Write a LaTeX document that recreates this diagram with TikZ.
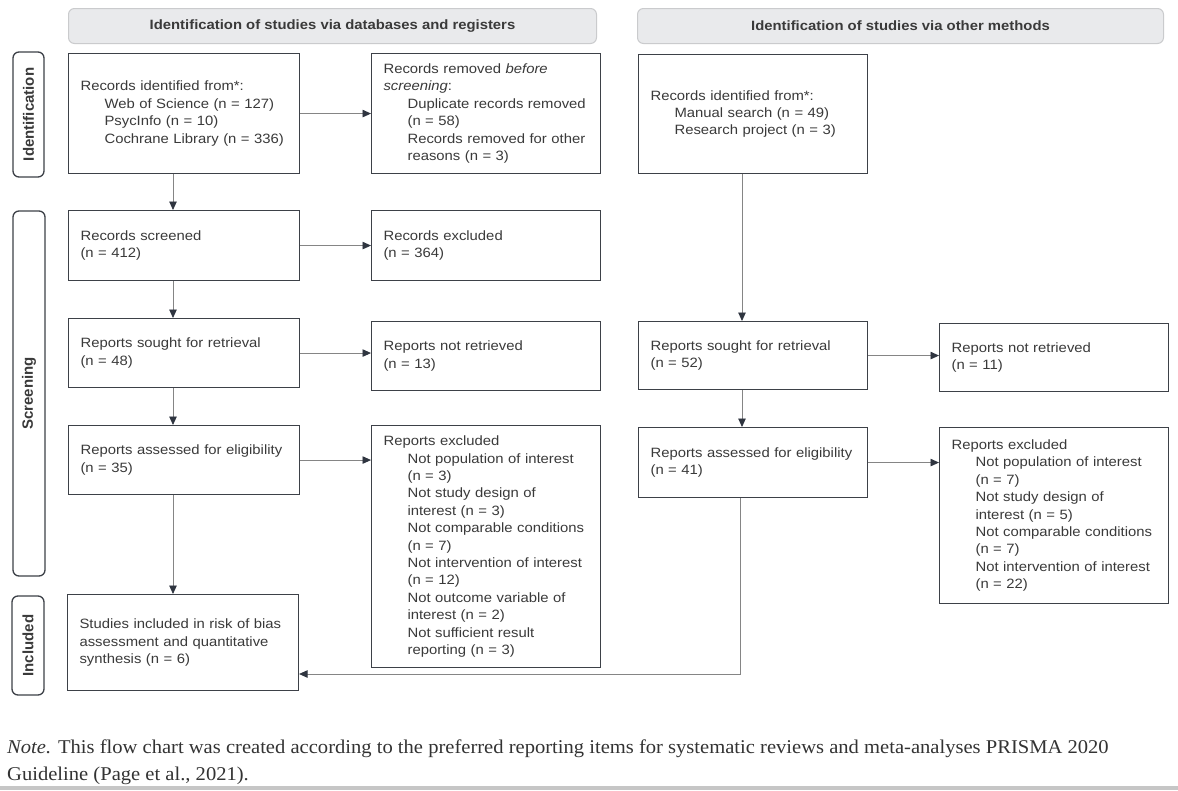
\documentclass[tikz,border=0pt]{standalone}
\usepackage{fontspec}
\setmainfont{Liberation Sans}[FakeStretch=1.1]
\newfontfamily\labfont{Liberation Sans}
\newfontfamily\notefont{Liberation Serif}[FakeStretch=1.055]
\usetikzlibrary{arrows.meta}
\definecolor{boxc}{HTML}{3D4148}
\definecolor{txt}{HTML}{3A3A3A}
\definecolor{hdrfill}{HTML}{E9EAEC}
\definecolor{hdrdraw}{HTML}{CACBCD}
\definecolor{linec}{HTML}{858585}
\definecolor{tipc}{HTML}{2F3540}
\definecolor{notec}{HTML}{333333}
\newcommand\myind{\hspace*{24pt}}
\begin{document}
\begin{tikzpicture}[x=1pt,y=-1pt,
  box/.style={draw=boxc, line width=1.1pt, fill=white, anchor=north west, inner xsep=12pt, inner ysep=0pt, align=left, text=txt, font=\fontsize{13.5}{17.4}\selectfont},
  hdr/.style={draw=hdrdraw, fill=hdrfill, rounded corners=6pt, line width=1pt, anchor=north west, text=txt, font=\bfseries\fontsize{13.5}{16}\selectfont},
  side/.style={draw=boxc, fill=white, rounded corners=6pt, line width=1.3pt},
  sidetext/.style={rotate=90, text=txt, font=\labfont\bfseries\fontsize{15}{17}\selectfont},
  arr/.style={draw=linec, line width=0.9pt, -{Triangle[length=8.5pt,width=7.5pt,color=tipc]}}]
\useasboundingbox (0,0) rectangle (1178,790);
\fill[white] (0,0) rectangle (1178,790);

% headers
\node[hdr, minimum width=528pt, minimum height=35pt] (h1) at (68,8) {Identification of studies via databases and registers};
\node[hdr, minimum width=526pt, minimum height=35pt] (h2) at (637,8) {Identification of studies via other methods};

% side labels
\draw[side] (13,52) rectangle (44,177);
\node[sidetext] (sl1) at (28.5,114.5) {Identification};
\draw[side] (13,211) rectangle (45,576);
\node[sidetext] (sl2) at (29,393.5) {Screening};
\draw[side] (12,596) rectangle (44,695);
\node[sidetext] (sl3) at (28,645.5) {Included};

% left column
\node[box, text width=207pt, minimum height=120pt] (a) at (68,53) {Records identified from*:\\\myind Web of Science (n = 127)\\\myind PsycInfo (n = 10)\\\myind Cochrane Library (n = 336)};
\node[box, text width=207pt, minimum height=70pt] (c) at (68,210) {Records screened\\(n = 412)};
\node[box, text width=207pt, minimum height=69pt] (e) at (68,318) {Reports sought for retrieval\\(n = 48)};
\node[box, text width=207pt, minimum height=69pt] (g) at (68,425) {Reports assessed for eligibility\\(n = 35)};
\node[box, text width=207pt, minimum height=96pt] (inc) at (67,594) {Studies included in risk of bias\\assessment and quantitative\\synthesis (n = 6)};

% middle column
\node[box, text width=205pt, minimum height=120pt] (b) at (371,53) {Records removed \textit{before}\\\textit{screening}:\\\myind Duplicate records removed\\\myind (n = 58)\\\myind Records removed for other\\\myind reasons (n = 3)};
\node[box, text width=205pt, minimum height=70pt] (d) at (371,210) {Records excluded\\(n = 364)};
\node[box, text width=205pt, minimum height=69pt] (f) at (371,321) {Reports not retrieved\\(n = 13)};
\node[box, text width=205pt, minimum height=242pt] (h) at (371,425) {Reports excluded\\\myind Not population of interest\\\myind (n = 3)\\\myind Not study design of\\\myind interest (n = 3)\\\myind Not comparable conditions\\\myind (n = 7)\\\myind Not intervention of interest\\\myind (n = 12)\\\myind Not outcome variable of\\\myind interest (n = 2)\\\myind Not sufficient result\\\myind reporting (n = 3)};

% right columns
\node[box, text width=205pt, minimum height=119pt] (a2) at (638,54) {Records identified from*:\\\myind Manual search (n = 49)\\\myind Research project (n = 3)};
\node[box, text width=205pt, minimum height=68pt] (e2) at (638,321) {Reports sought for retrieval\\(n = 52)};
\node[box, text width=205pt, minimum height=70pt] (g2) at (638,427) {Reports assessed for eligibility\\(n = 41)};
\node[box, text width=205pt, minimum height=68pt] (f2) at (939,323) {Reports not retrieved\\(n = 11)};
\node[box, text width=205pt, minimum height=176pt] (h2x) at (939,427) {Reports excluded\\\myind Not population of interest\\\myind (n = 7)\\\myind Not study design of\\\myind interest (n = 5)\\\myind Not comparable conditions\\\myind (n = 7)\\\myind Not intervention of interest\\\myind (n = 22)};

% connectors
\coordinate (xl) at (173,0);
\coordinate (xr) at (742,0);
\coordinate (bend) at (740,674);
\draw[arr] (a.south -| xl) -- (c.north -| xl);
\draw[arr] (c.south -| xl) -- (e.north -| xl);
\draw[arr] (e.south -| xl) -- (g.north -| xl);
\draw[arr] (g.south -| xl) -- (inc.north -| xl);
\draw[arr] (a.east) -- (a.east -| b.west);
\draw[arr] (c.east) -- (c.east -| d.west);
\draw[arr] (e.east) -- (e.east -| f.west);
\draw[arr] (g.east) -- (g.east -| h.west);
\draw[arr] (a2.south -| xr) -- (e2.north -| xr);
\draw[arr] (e2.south -| xr) -- (g2.north -| xr);
\draw[arr] (e2.east) -- (e2.east -| f2.west);
\draw[arr] (g2.east) -- (g2.east -| h2x.west);
\draw[arr] (g2.south -| bend) -- (bend) -- (bend -| inc.east);

% note
\node[anchor=base west, inner sep=0pt, text=notec, font=\notefont\fontsize{19.5}{27}\selectfont] (note1) at (7,753) {\textit{Note.} This flow chart was created according to the preferred reporting items for systematic reviews and meta-analyses PRISMA 2020};
\node[anchor=base west, inner sep=0pt, text=notec, font=\notefont\fontsize{19.5}{27}\selectfont] (note2) at (7,780) {Guideline (Page et al., 2021).};
\fill[gray!45] (0,786) rectangle (1178,790);
\end{tikzpicture}
\end{document}
